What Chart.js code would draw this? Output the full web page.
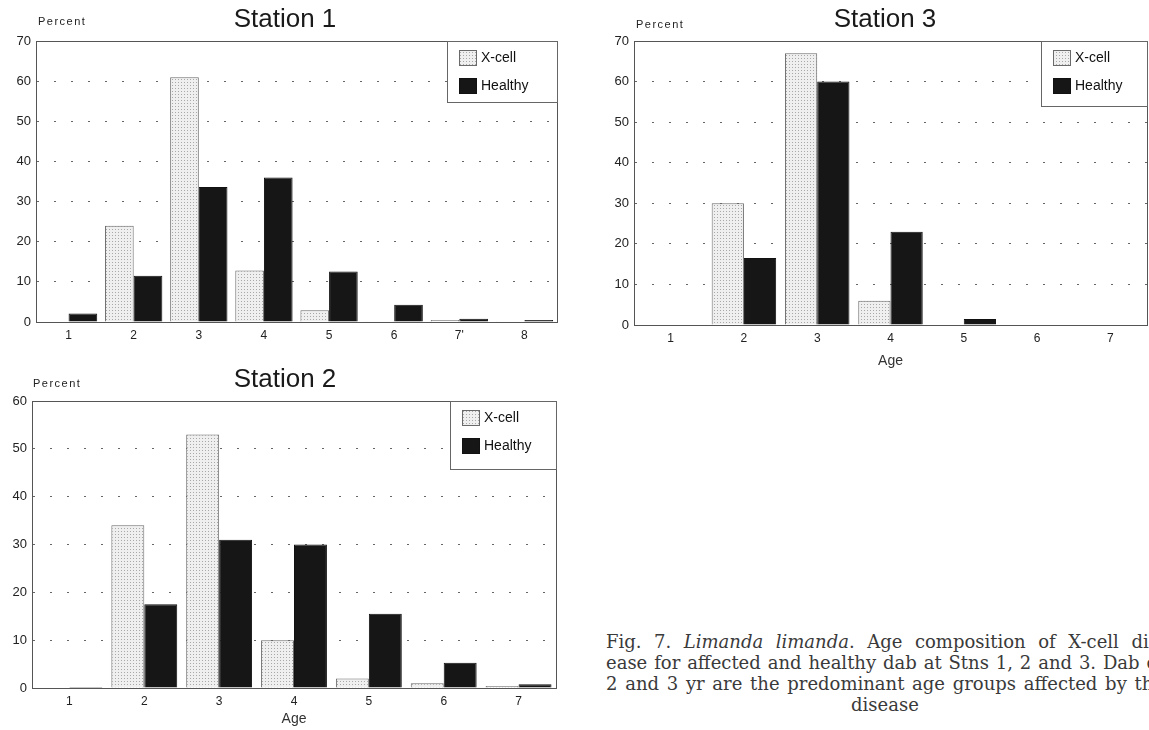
<!DOCTYPE html>
<html>
<head>
<meta charset="utf-8">
<script src="https://cdn.jsdelivr.net/npm/chart.js@4/dist/chart.umd.min.js"></script>
<style>
body { margin: 0; width: 1149px; height: 730px; overflow: hidden; background: #fff; position: relative; }
.caja { position: absolute; }
#leyenda { position: absolute; left: 606px; top: 631px; width: 558px; font-family: "DejaVu Serif", serif; font-size: 18px; line-height: 21px; color: #3a3a3a; }
#leyenda div { text-align: justify; text-align-last: justify; white-space: nowrap; }
#leyenda div.ultima { text-align: center; text-align-last: center; }
</style>
</head>
<body>
<div class="caja" style="left:0;top:0;width:570px;height:350px"><canvas id="est1"></canvas></div>
<div class="caja" style="left:575px;top:0;width:574px;height:380px"><canvas id="est3"></canvas></div>
<div class="caja" style="left:0;top:365px;width:570px;height:365px"><canvas id="est2"></canvas></div>
<div id="leyenda">
  <div>Fig. 7. <i>Limanda limanda</i>. Age composition of X-cell dis-</div>
  <div>ease for affected and healthy dab at Stns 1, 2 and 3. Dab of</div>
  <div>2 and 3 yr are the predominant age groups affected by the</div>
  <div class="ultima">disease</div>
</div>
<script>
// DATOS
const edades1 = ['1', '2', '3', '4', '5', '6', "7'", '8']
const xcell1 = [0, 24, 61, 12.8, 2.9, 0.2, 0.5, 0.2]
const sanos1 = [2.1, 11.5, 33.6, 36, 12.6, 4.3, 0.8, 0.5]

const edades2 = ['1', '2', '3', '4', '5', '6', '7']
const xcell2 = [0, 34, 53, 10, 2, 1, 0.4]
const sanos2 = [0.2, 17.5, 31, 30, 15.5, 5.3, 0.8]

const edades3 = ['1', '2', '3', '4', '5', '6', '7']
const xcell3 = [0, 30, 67, 6, 0, 0, 0]
const sanos3 = [0, 16.5, 60, 23, 1.5, 0, 0]

const nombres = ['X-cell', 'Healthy']

// FUNCIONES
function crearPunteado() {
    const c = document.createElement('canvas')
    c.width = 3
    c.height = 3
    const g = c.getContext('2d')
    g.fillStyle = '#efefef'
    g.fillRect(0, 0, 3, 3)
    g.fillStyle = '#a8a8a8'
    g.fillRect(1, 1, 1, 1)
    return g.createPattern(c, 'repeat')
}

const punteado = crearPunteado()

const decorado = {
    id: 'decorado',
    afterDraw(chart, args, op) {
        const ctx = chart.ctx
        const a = chart.chartArea
        ctx.save()
        // marco
        ctx.strokeStyle = '#555'
        ctx.lineWidth = 1
        ctx.strokeRect(a.left + 0.5, a.top + 0.5, a.right - a.left, a.bottom - a.top)
        // titulo
        ctx.fillStyle = '#1a1a1a'
        ctx.font = '26px "Liberation Sans", Arial, sans-serif'
        ctx.textAlign = 'center'
        ctx.textBaseline = 'middle'
        ctx.fillText(op.titulo, op.tx, op.ty)
        // Percent
        ctx.font = '11px "Liberation Sans", Arial, sans-serif'
        ctx.letterSpacing = '1.5px'
        ctx.textAlign = 'left'
        ctx.fillStyle = '#222'
        ctx.fillText('Percent', op.px, op.py)
        ctx.letterSpacing = '0px'
        // caja de leyenda
        const w = op.lw, h = op.lh
        const x0 = a.right - w, y0 = a.top
        ctx.fillStyle = '#fff'
        ctx.fillRect(x0, y0, w, h)
        ctx.strokeStyle = '#666'
        ctx.strokeRect(x0 + 0.5, y0 + 0.5, w, h)
        ctx.font = '14px "Liberation Sans", Arial, sans-serif'
        chart.data.datasets.forEach((ds, i) => {
            const sy = y0 + 9 + i * 28
            ctx.fillStyle = ds.backgroundColor
            ctx.fillRect(x0 + 12, sy, 17, 15)
            ctx.strokeStyle = ds.borderColor
            ctx.strokeRect(x0 + 12.5, sy + 0.5, 17, 15)
            ctx.fillStyle = '#111'
            ctx.fillText(ds.label, x0 + 34, sy + 8)
        })
        ctx.restore()
    }
}

function graficar(id, etiquetas, xcell, sanos, cfg) {
    const ctx = document.getElementById(id).getContext('2d')
    new Chart(ctx, {
        type: 'bar',
        data: {
            labels: etiquetas,
            datasets: [
                {
                    label: nombres[0],
                    data: xcell,
                    backgroundColor: punteado,
                    borderColor: '#6a6a6a',
                    borderWidth: 1,
                    barPercentage: 1,
                    categoryPercentage: 0.88,
                },
                {
                    label: nombres[1],
                    data: sanos,
                    backgroundColor: '#161616',
                    borderColor: '#111',
                    borderWidth: 1,
                    barPercentage: 1,
                    categoryPercentage: 0.88,
                },
            ],
        },
        options: {
            responsive: true,
            maintainAspectRatio: false,
            animation: false,
            layout: { padding: { top: cfg.arriba, right: cfg.derecha, left: 0, bottom: 0 } },
            scales: {
                x: {
                    grid: { display: false, drawTicks: false },
                    border: { display: true, color: '#444' },
                    ticks: {
                        padding: 6,
                        color: '#222',
                        font: { family: '"Liberation Sans", Arial, sans-serif', size: 12 },
                    },
                    title: {
                        display: cfg.edad,
                        text: 'Age',
                        color: '#333',
                        padding: { top: 0, bottom: cfg.edadPad },
                        font: { family: '"Liberation Sans", Arial, sans-serif', size: 14 },
                    },
                    afterFit: (s) => { s.height = cfg.altoX },
                },
                y: {
                    min: 0,
                    max: cfg.maximo,
                    grid: { color: '#666', lineWidth: 1, drawTicks: false },
                    border: { display: true, color: '#444', dash: [2, 15] },
                    ticks: {
                        stepSize: 10,
                        padding: 5,
                        color: '#222',
                        font: { family: '"Liberation Sans", Arial, sans-serif', size: 13 },
                    },
                    afterFit: (s) => { s.width = cfg.anchoY },
                },
            },
            plugins: {
                legend: { display: false },
                tooltip: { enabled: false },
                decorado: cfg.deco,
            },
        },
        plugins: [decorado],
    })
}

// EJECUCIÓN
graficar('est1', edades1, xcell1, sanos1, {
    arriba: 41, derecha: 13, anchoY: 36, altoX: 28, maximo: 70, edad: false, edadPad: 0,
    deco: { titulo: 'Station 1', tx: 285, ty: 20, px: 38, py: 22, lw: 110, lh: 61 },
})
graficar('est3', edades3, xcell3, sanos3, {
    arriba: 41, derecha: 2, anchoY: 59, altoX: 55, maximo: 70, edad: true, edadPad: 10,
    deco: { titulo: 'Station 3', tx: 310, ty: 20, px: 61, py: 25, lw: 106, lh: 65 },
})
graficar('est2', edades2, xcell2, sanos2, {
    arriba: 36, derecha: 14, anchoY: 32, altoX: 42, maximo: 60, edad: true, edadPad: 2,
    deco: { titulo: 'Station 2', tx: 285, ty: 15, px: 33, py: 19, lw: 106, lh: 68 },
})
</script>
</body>
</html>
